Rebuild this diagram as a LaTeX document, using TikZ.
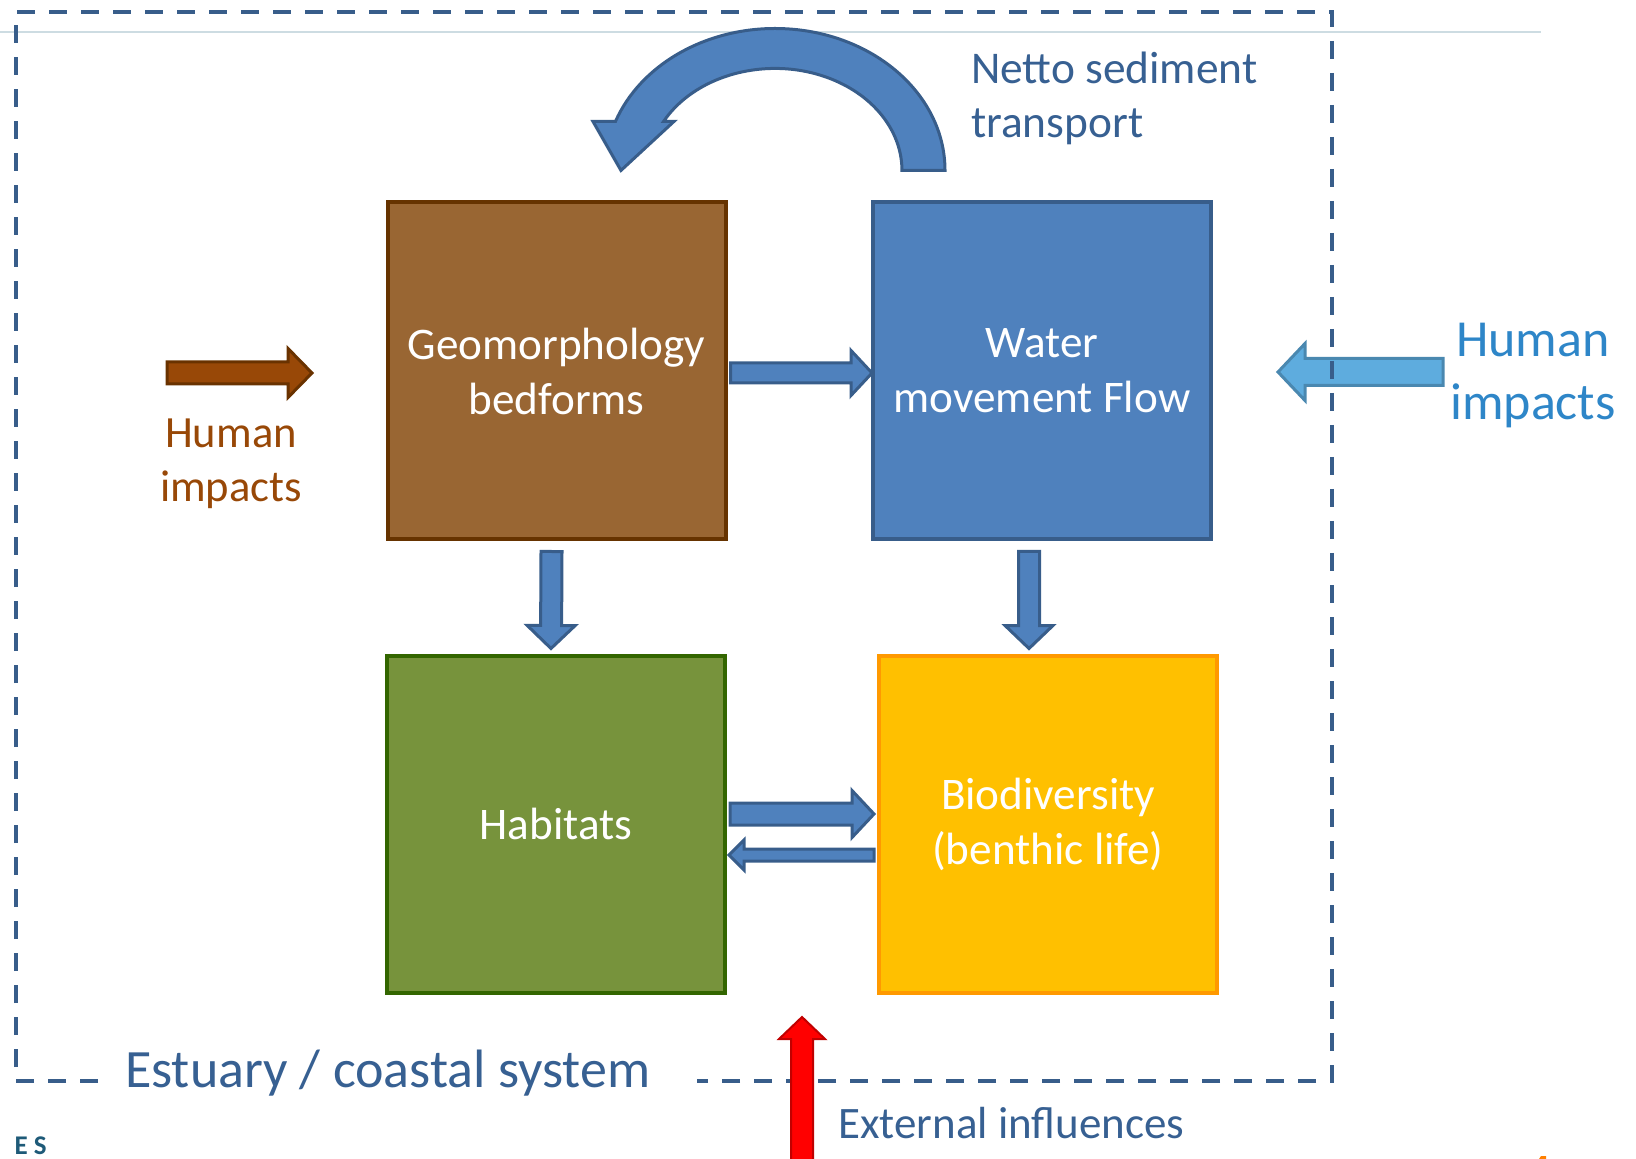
\documentclass[tikz,border=0pt]{standalone}
\usepackage{fontspec}
\setmainfont{Carlito}
\usetikzlibrary{calc}

\definecolor{dashblue}{RGB}{56,93,138}
\definecolor{textblue}{RGB}{55,96,146}
\definecolor{geofill}{RGB}{153,102,51}
\definecolor{geoline}{RGB}{102,51,0}
\definecolor{waterfill}{RGB}{79,129,189}
\definecolor{waterline}{RGB}{56,93,138}
\definecolor{habfill}{RGB}{119,147,60}
\definecolor{habline}{RGB}{51,102,0}
\definecolor{biofill}{RGB}{255,192,0}
\definecolor{bioline}{RGB}{255,153,0}
\definecolor{humanbrown}{RGB}{152,72,7}
\definecolor{brownline}{RGB}{105,50,0}
\definecolor{humanblue}{RGB}{46,134,200}
\definecolor{lightfill}{RGB}{94,172,222}
\definecolor{lightline}{RGB}{74,136,176}
\definecolor{redline}{RGB}{192,0,0}
\definecolor{rulegray}{RGB}{205,220,226}
\definecolor{logoteal}{RGB}{30,90,120}

% block arrow: style, tail, tip, half shaft, half head, head length
\newcommand{\blockarrow}[6]{%
  \coordinate (t) at (#2);
  \coordinate (p) at (#3);
  \coordinate (b) at ($(p)!#6!(t)$);
  \draw[#1] ($(t)!#4!90:(p)$) -- ($(b)!#4!-90:(t)$) -- ($(b)!#5!-90:(t)$) -- (p)
    -- ($(b)!#5!90:(t)$) -- ($(b)!#4!90:(t)$) -- ($(t)!#4!-90:(p)$) -- cycle;}

\tikzset{
  box/.style={draw, line width=2pt, minimum width=169pt, minimum height=168.5pt,
    text=white, align=center, font=\fontsize{22.6}{27.5}\selectfont},
  flow/.style={draw=waterline, fill=waterfill, line width=1.5pt},
  frameline/.style={draw=dashblue, line width=2pt, dash pattern=on 9pt off 7pt},
}

\begin{document}
\begin{tikzpicture}[x=0.5pt, y=-0.5pt]
    \useasboundingbox (0,0) rectangle (1636,1159);
    \draw[rulegray, line width=1pt] (0,32) -- (1541,32);

    % the four boxes
    \node[box, draw=geoline, fill=geofill] (geo) at (556.5,371) {Geomorphology\\bedforms};
    \node[box, draw=waterline, fill=waterfill] (water) at (1042,371) {Water\\movement Flow};
    \node[box, draw=habline, fill=habfill] (hab) at (556,824) {Habitats};
    \node[box, draw=bioline, fill=biofill] (bio) at (1048,824) {Biodiversity\\(benthic life)};

    % arrows between boxes
    \blockarrow{flow}{$(geo.east)+(3,2)$}{$(water.west)+(1,2)$}{5pt}{11.25pt}{10.5pt}
    \blockarrow{flow}{$(geo.south)+(-5,10)$}{$(hab.north)+(-5,-5)$}{5.25pt}{12pt}{11.5pt}
    \blockarrow{flow}{$(water.south)+(-13,10)$}{$(bio.north)+(-19,-5)$}{5.25pt}{12pt}{11.5pt}
    \blockarrow{flow}{$(hab.east)+(3,-10)$}{$(bio.west)+(-3,-10)$}{5.5pt}{11.75pt}{11pt}
    \blockarrow{flow}{$(bio.west)+(-3,31)$}{$(hab.east)+(2,31)$}{3pt}{7.5pt}{7.5pt}

    % netto sediment transport
    \draw[flow] ($(water.north west)+(74,-30)$)
        arc[start angle=0, end angle=-159.8, x radius=170, y radius=142]
        -- ++(-22.5,0) -- ++(28,49) -- ++(53,-49) -- ++(-10.4,0)
        arc[start angle=-151.3, end angle=0, x radius=127, y radius=102] -- cycle;
    \node[anchor=base west, align=left, text=textblue, font=\fontsize{22.7}{27}\selectfont]
        (netto) at (964,138) {Netto sediment\\transport};

    % human impacts
    \node[anchor=base, align=center, text=humanbrown, font=\fontsize{22.3}{27}\selectfont]
        (humanL) at (231,502) {Human\\impacts};
    \coordinate (hlTail) at (167,373);
    \coordinate (hlTip) at (312,373);
    \blockarrow{draw=brownline, fill=humanbrown, line width=1.5pt}{hlTail}{hlTip}{5.5pt}{12.25pt}{12pt}
    \node[anchor=base, align=center, text=humanblue, font=\fontsize{26}{31.5}\selectfont]
        (humanR) at (1533,420) {Human\\impacts};
    \coordinate (hrTail) at (1443,372);
    \coordinate (hrTip) at (1278,372);
    \blockarrow{draw=lightline, fill=lightfill, line width=1.5pt}{hrTail}{hrTip}{6.75pt}{14.25pt}{13.5pt}

    % system boundary
    \draw[frameline] (98,1081) -- (16,1081) -- (16,12) -- (1332,12) -- (1332,1081) -- (697,1081);
    \node[anchor=base west, text=textblue, font=\fontsize{27}{31}\selectfont]
        (estuary) at (118,1087) {Estuary / coastal system};

    % external influences
    \coordinate (exTail) at (802,1175);
    \coordinate (exTip) at (802,1017);
    \blockarrow{draw=redline, fill=red, line width=1pt}{exTail}{exTip}{5.5pt}{11.5pt}{11pt}
    \node[anchor=base west, text=textblue, font=\fontsize{22.5}{26}\selectfont]
        (external) at (831,1138) {External influences};

    % bits at the page edge
    \node[anchor=base east, inner sep=0pt, text=logoteal, font=\bfseries\fontsize{13.5}{14}\selectfont]
        (logo) at (47,1154) {E\hspace{3pt}S};
    \fill[orange] (1539,1159) -- (1541,1156) -- (1546,1156) -- (1546,1159) -- cycle;
\end{tikzpicture}
\end{document}
